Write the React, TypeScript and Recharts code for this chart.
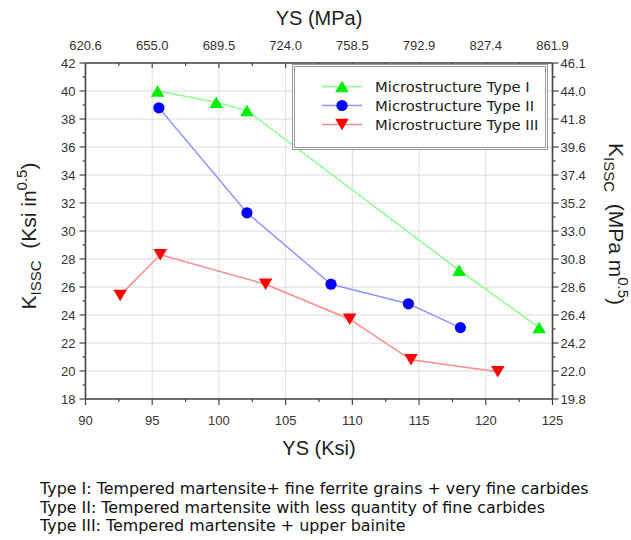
import { LineChart, Line, XAxis, YAxis, CartesianGrid, Legend } from "recharts";

// YS (Ksi) vs K_ISSC (Ksi in^0.5)
const typeIYS = [95.4, 99.8, 102.1, 118.0, 124.0];
const typeIK = [40.0, 39.2, 38.6, 27.2, 23.1];
const typeIIYS = [95.5, 102.1, 108.4, 114.2, 118.1];
const typeIIK = [38.8, 31.3, 26.2, 24.8, 23.1];
const typeIIIYS = [92.6, 95.6, 103.5, 109.8, 114.4, 120.9];
const typeIIIK = [25.4, 28.3, 26.2, 23.7, 20.8, 19.95];

const seriesNames = ["Microstructure Type I", "Microstructure Type II", "Microstructure Type III"];

const xMajor = [90, 95, 100, 105, 110, 115, 120, 125];
const xTicks = [90, 92.5, 95, 97.5, 100, 102.5, 105, 107.5, 110, 112.5, 115, 117.5, 120, 122.5, 125];
const mpaLabels = ["620.6", "655.0", "689.5", "724.0", "758.5", "792.9", "827.4", "861.9"];

const yMajor = [18, 20, 22, 24, 26, 28, 30, 32, 34, 36, 38, 40, 42];
const yTicks = [18, 19, 20, 21, 22, 23, 24, 25, 26, 27, 28, 29, 30, 31, 32, 33, 34, 35, 36, 37, 38, 39, 40, 41, 42];
const mpaRootLabels = ["19.8", "22.0", "24.2", "26.4", "28.6", "30.8", "33.0", "35.2", "37.4", "39.6", "41.8", "44.0", "46.1"];

const captions = [
  "Type I: Tempered martensite+ fine ferrite grains + very fine carbides",
  "Type II: Tempered martensite with less quantity of fine carbides",
  "Type III: Tempered martensite + upper bainite",
];

const toPoints = (xs: number[], ys: number[]) => xs.map((x, i) => ({ x, y: ys[i] }));
const typeI = toPoints(typeIYS, typeIK);
const typeII = toPoints(typeIIYS, typeIIK);
const typeIII = toPoints(typeIIIYS, typeIIIK);

const styles = [
  { marker: "#00ee00", line: "#8cff8c", shape: "up" },
  { marker: "#0000ff", line: "#9494ff", shape: "circle" },
  { marker: "#ff0000", line: "#ff8a8a", shape: "down" },
];

const AXIS = "#444";
const TICK_FONT = "'Liberation Sans', Arial, sans-serif";

function Marker({ cx, cy, shape, color }: any) {
  if (cx == null || cy == null) return null;
  if (shape === "circle") return <circle cx={cx} cy={cy} r={5.6} fill={color} />;
  const w = 13.5;
  const h = 11.5;
  const pts =
    shape === "up"
      ? `${cx},${cy - h / 2} ${cx + w / 2},${cy + h / 2} ${cx - w / 2},${cy + h / 2}`
      : `${cx},${cy + h / 2} ${cx + w / 2},${cy - h / 2} ${cx - w / 2},${cy - h / 2}`;
  return <polygon points={pts} fill={color} />;
}

const tickText = { fontFamily: TICK_FONT, fontSize: 13, fill: "#333" };

function LeftTick({ x, y, payload }: any) {
  const v = payload.value;
  const major = yMajor.includes(v);
  return (
    <g>
      <line x1={x} x2={x - (major ? 6 : 3)} y1={y} y2={y} stroke={AXIS} strokeWidth={1.2} />
      {major && (
        <text x={x - 10} y={y + 4.5} textAnchor="end" {...tickText}>
          {v}
        </text>
      )}
    </g>
  );
}

function RightTick({ x, y, payload }: any) {
  const v = payload.value;
  const i = yMajor.indexOf(v);
  return (
    <g>
      <line x1={x} x2={x + (i >= 0 ? 6 : 3)} y1={y} y2={y} stroke={AXIS} strokeWidth={1.2} />
      {i >= 0 && (
        <text x={x + 8} y={y + 4.5} textAnchor="start" {...tickText}>
          {mpaRootLabels[i]}
        </text>
      )}
    </g>
  );
}

function BottomTick({ x, y, payload }: any) {
  const v = payload.value;
  const major = xMajor.includes(v);
  return (
    <g>
      <line x1={x} x2={x} y1={y} y2={y + (major ? 6 : 3)} stroke={AXIS} strokeWidth={1.2} />
      {major && (
        <text x={x} y={y + 26} textAnchor="middle" {...tickText}>
          {v}
        </text>
      )}
    </g>
  );
}

function TopTick({ x, y, payload }: any) {
  const v = payload.value;
  const i = xMajor.indexOf(v);
  return (
    <g>
      <line x1={x} x2={x} y1={y} y2={y + (i >= 0 ? 5 : 3)} stroke={AXIS} strokeWidth={1.2} />
      {i >= 0 && (
        <text x={x} y={y - 13} textAnchor="middle" {...tickText}>
          {mpaLabels[i]}
        </text>
      )}
    </g>
  );
}

const titleFont = { fontFamily: TICK_FONT, fill: "#222" };

function KTitle({ x, y, rotate, unit }: any) {
  return (
    <text
      x={x}
      y={y + 7}
      transform={`rotate(${rotate}, ${x}, ${y})`}
      textAnchor="middle"
      style={{ whiteSpace: "pre" }}
      {...titleFont}
      fontSize={21}
    >
      K
      <tspan fontSize={15} dy={5}>ISSC</tspan>
      <tspan dy={-5}>{"  (" + unit}</tspan>
      <tspan fontSize={15} dy={-9}>0.5</tspan>
      <tspan dy={9}>)</tspan>
    </text>
  );
}

function LegendBox() {
  return (
    <div
      style={{
        width: 250,
        height: 70,
        border: "3px double #999",
        background: "#fff",
        paddingTop: 10,
        boxSizing: "content-box",
        fontFamily: "'DejaVu Sans', Verdana, sans-serif",
        fontSize: 14.8,
        color: "#222",
      }}
    >
      {seriesNames.map((name, i) => (
        <div key={name} style={{ display: "flex", alignItems: "center", height: 19 }}>
          <svg width={80} height={19} style={{ flex: "none" }}>
            <line x1={27} x2={67} y1={9.5} y2={9.5} stroke={styles[i].line} strokeWidth={1.5} />
            <Marker cx={47} cy={9.5} shape={styles[i].shape} color={styles[i].marker} />
          </svg>
          <span style={{ whiteSpace: "nowrap" }}>{name}</span>
        </div>
      ))}
    </div>
  );
}

const lines = [typeI, typeII, typeIII];

export default function App() {
  return (
    <div style={{ position: "absolute", left: 0, top: 0, width: 631, height: 540, background: "#fff" }}>
      <LineChart width={631} height={540} margin={{ top: 33, right: 38.5, bottom: 111, left: 45.5 }}>
        <CartesianGrid stroke="#dcdcdc" strokeWidth={1} horizontalValues={yMajor} verticalValues={xMajor} />
        <XAxis
          type="number"
          dataKey="x"
          domain={[90, 125]}
          ticks={xTicks}
          interval={0}
          allowDataOverflow
          height={30}
          tickSize={0}
          tickMargin={0}
          tick={(p: any) => <BottomTick {...p} />}
          axisLine={{ stroke: AXIS, strokeWidth: 1.6 }}
          label={({ viewBox }: any) => (
            <text
              x={viewBox.x + viewBox.width / 2}
              y={viewBox.y + 49}
              textAnchor="middle"
              dominantBaseline="central"
              {...titleFont}
              fontSize={20}
            >
              YS (Ksi)
            </text>
          )}
        />
        <XAxis
          xAxisId="top"
          orientation="top"
          type="number"
          dataKey="x"
          domain={[90, 125]}
          ticks={xTicks}
          interval={0}
          allowDataOverflow
          height={30}
          tickSize={0}
          tickMargin={0}
          tick={(p: any) => <TopTick {...p} />}
          axisLine={{ stroke: AXIS, strokeWidth: 1.6 }}
          label={({ viewBox }: any) => (
            <text
              x={viewBox.x + viewBox.width / 2}
              y={viewBox.y - 15}
              textAnchor="middle"
              dominantBaseline="central"
              {...titleFont}
              fontSize={20}
            >
              YS (MPa)
            </text>
          )}
        />
        <YAxis
          type="number"
          domain={[18, 42]}
          ticks={yTicks}
          interval={0}
          allowDataOverflow
          width={40}
          tickSize={0}
          tickMargin={0}
          tick={(p: any) => <LeftTick {...p} />}
          axisLine={{ stroke: AXIS, strokeWidth: 1.6 }}
          label={({ viewBox }: any) => (
            <KTitle x={viewBox.x - 17} y={viewBox.y + viewBox.height / 2 + 5} rotate={-90} unit="Ksi in" />
          )}
        />
        <YAxis
          yAxisId="right"
          orientation="right"
          type="number"
          domain={[18, 42]}
          ticks={yTicks}
          interval={0}
          allowDataOverflow
          width={40}
          tickSize={0}
          tickMargin={0}
          tick={(p: any) => <RightTick {...p} />}
          axisLine={{ stroke: AXIS, strokeWidth: 1.6 }}
          label={({ viewBox }: any) => (
            <KTitle
              x={viewBox.x + viewBox.width + 23}
              y={viewBox.y + viewBox.height / 2 - 7}
              rotate={90}
              unit="MPa m"
            />
          )}
        />
        <Legend
          layout="vertical"
          align="center"
          verticalAlign="middle"
          content={() => <LegendBox />}
          wrapperStyle={{ left: 292, top: 64, width: "auto", height: "auto" }}
        />
        {lines.map((d, i) => (
          <Line
            key={seriesNames[i]}
            name={seriesNames[i]}
            data={d}
            dataKey="y"
            type="linear"
            stroke={styles[i].line}
            strokeWidth={1.5}
            isAnimationActive={false}
            dot={(p: any) => (
              <Marker key={`${i}-${p.index}`} cx={p.cx} cy={p.cy} shape={styles[i].shape} color={styles[i].marker} />
            )}
            activeDot={false}
          />
        ))}
      </LineChart>
      <div
        style={{
          position: "absolute",
          left: 40,
          top: 480,
          fontFamily: "'DejaVu Sans', Verdana, sans-serif",
          fontSize: 15.9,
          lineHeight: "18.5px",
          color: "#111",
          whiteSpace: "nowrap",
        }}
      >
        {captions.map((c) => (
          <div key={c}>{c}</div>
        ))}
      </div>
    </div>
  );
}
